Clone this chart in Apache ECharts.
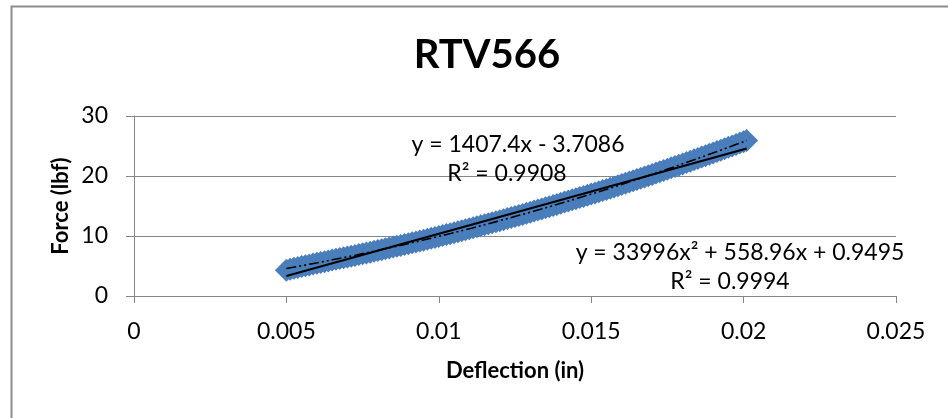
<!DOCTYPE html>
<html>
<head>
<meta charset="utf-8">
<script src="https://cdn.jsdelivr.net/npm/echarts@6/dist/echarts.min.js"></script>
<style>
html,body{margin:0;padding:0;background:#fff;}
#chart{width:948px;height:418px;}
</style>
</head>
<body>
<div id="chart"></div>
<script>
// ---- data ----
const titleText = 'RTV566';
const xAxisName = 'Deflection (in)';
const yAxisName = 'Force (lbf)';
const xTickLabels = ['0', '0.005', '0.01', '0.015', '0.02', '0.025'];
const yTickLabels = ['0', '10', '20', '30'];

const deflection = [
  0.005, 0.005125, 0.00525, 0.005375, 0.0055, 0.005625, 0.00575, 0.005875,
  0.006, 0.006125, 0.00625, 0.006375, 0.0065, 0.006625, 0.00675, 0.006875,
  0.007, 0.007125, 0.00725, 0.007375, 0.0075, 0.007625, 0.00775, 0.007875,
  0.008, 0.008125, 0.00825, 0.008375, 0.0085, 0.008625, 0.00875, 0.008875,
  0.009, 0.009125, 0.00925, 0.009375, 0.0095, 0.009625, 0.00975, 0.009875,
  0.01, 0.010125, 0.01025, 0.010375, 0.0105, 0.010625, 0.01075, 0.010875,
  0.011, 0.011125, 0.01125, 0.011375, 0.0115, 0.011625, 0.01175, 0.011875,
  0.012, 0.012125, 0.01225, 0.012375, 0.0125, 0.012625, 0.01275, 0.012875,
  0.013, 0.013125, 0.01325, 0.013375, 0.0135, 0.013625, 0.01375, 0.013875,
  0.014, 0.014125, 0.01425, 0.014375, 0.0145, 0.014625, 0.01475, 0.014875,
  0.015, 0.015125, 0.01525, 0.015375, 0.0155, 0.015625, 0.01575, 0.015875,
  0.016, 0.016125, 0.01625, 0.016375, 0.0165, 0.016625, 0.01675, 0.016875,
  0.017, 0.017125, 0.01725, 0.017375, 0.0175, 0.017625, 0.01775, 0.017875,
  0.018, 0.018125, 0.01825, 0.018375, 0.0185, 0.018625, 0.01875, 0.018875,
  0.019, 0.019125, 0.01925, 0.019375, 0.0195, 0.019625, 0.01975, 0.019875,
  0.02, 0.0201
];
const force = [
  4.30, 4.46, 4.62, 4.76, 4.90, 5.04, 5.18, 5.32,
  5.45, 5.58, 5.70, 5.84, 5.98, 6.11, 6.24, 6.37,
  6.50, 6.63, 6.77, 6.90, 7.03, 7.17, 7.31, 7.44,
  7.58, 7.72, 7.86, 8.00, 8.15, 8.28, 8.42, 8.57,
  8.72, 8.86, 9.01, 9.15, 9.30, 9.46, 9.62, 9.77,
  9.92, 10.08, 10.24, 10.39, 10.55, 10.71, 10.88, 11.04,
  11.20, 11.36, 11.53, 11.69, 11.86, 12.03, 12.20, 12.37,
  12.54, 12.72, 12.90, 13.07, 13.25, 13.42, 13.60, 13.78,
  13.97, 14.15, 14.33, 14.51, 14.70, 14.89, 15.08, 15.27,
  15.46, 15.65, 15.84, 16.03, 16.22, 16.41, 16.60, 16.79,
  16.98, 17.17, 17.37, 17.57, 17.77, 17.97, 18.18, 18.38,
  18.58, 18.79, 19.00, 19.21, 19.42, 19.63, 19.84, 20.05,
  20.26, 20.48, 20.70, 20.92, 21.14, 21.36, 21.58, 21.80,
  22.02, 22.24, 22.47, 22.69, 22.92, 23.15, 23.38, 23.61,
  23.84, 24.07, 24.30, 24.54, 24.78, 25.01, 25.25, 25.48,
  25.72, 25.90
];

// trendline coefficients as printed on the chart
const linearCoef = [1407.4, -3.7086];          // slope, intercept
const polyCoef = [33996, 558.96, 0.9495];      // a, b, c
const linearLabel = ['y = 1407.4x - 3.7086', 'R² = 0.9908'];
const polyLabel = ['y = 33996x² + 558.96x + 0.9495', 'R² = 0.9994'];

// ---- build ----
const scatterData = deflection.map((x, i) => [x, force[i]]);
const xMin = Math.min(...deflection), xMax = Math.max(...deflection);
const linData = [xMin, xMax].map(x => [x, linearCoef[0] * x + linearCoef[1]]);
const polyData = [];
const nSteps = 40;
for (let i = 0; i <= nSteps; i++) {
  const x = xMin + (xMax - xMin) * i / nSteps;
  polyData.push([x, polyCoef[0] * x * x + polyCoef[1] * x + polyCoef[2]]);
}

const FONT = 'Lato, "Open Sans", sans-serif';
const GRAY = '#868686';
const TXT = 23;

const chart = echarts.init(document.getElementById('chart'), null, {renderer: 'canvas'});
chart.setOption({
  animation: false,
  backgroundColor: '#fff',
  title: {
    text: titleText,
    left: 482, top: 30, textAlign: 'center',
    textStyle: {fontFamily: FONT, fontSize: 40, fontWeight: 'bold', color: '#000'}
  },
  grid: {left: 134, right: 52, top: 116, bottom: 122, containLabel: false},
  xAxis: {
    type: 'value', min: 0, max: 0.025, interval: 0.005,
    name: xAxisName, nameLocation: 'middle', nameGap: 64, nameMoveOverlap: false,
    nameTextStyle: {fontFamily: FONT, fontSize: 22, fontWeight: 'bold', color: '#000'},
    axisLine: {show: true, lineStyle: {color: GRAY, width: 1}},
    axisTick: {show: true, length: 7, lineStyle: {color: GRAY}},
    axisLabel: {
      fontFamily: FONT, fontSize: TXT, color: '#000', margin: 24,
      formatter: (v) => xTickLabels[Math.round(v / 0.005)]
    },
    splitLine: {show: false}
  },
  yAxis: {
    type: 'value', min: 0, max: 30, interval: 10,
    name: yAxisName, nameLocation: 'middle', nameGap: 62, nameRotate: 90, nameMoveOverlap: false,
    nameTextStyle: {fontFamily: FONT, fontSize: 22, fontWeight: 'bold', color: '#000'},
    axisLine: {show: true, lineStyle: {color: GRAY, width: 1}},
    axisTick: {show: true, length: 8, lineStyle: {color: GRAY}},
    axisLabel: {
      fontFamily: FONT, fontSize: TXT, color: '#000', margin: 26,
      formatter: (v) => yTickLabels[Math.round(v / 10)]
    },
    splitLine: {show: true, lineStyle: {color: GRAY, width: 1}}
  },
  series: [
    {
      type: 'scatter', name: 'data', data: scatterData,
      symbol: 'diamond', symbolSize: 23,
      itemStyle: {color: '#4a7ebb', opacity: 1}
    },
    {
      type: 'line', name: 'linear', data: linData, showSymbol: false, symbol: 'none',
      lineStyle: {color: '#000', width: 2, type: 'solid'}
    },
    {
      type: 'line', name: 'poly', data: polyData, showSymbol: false, symbol: 'none', smooth: false,
      lineStyle: {color: '#000', width: 1.6, type: [10, 3, 2, 3, 2, 3]}
    }
  ],
  graphic: [
    {type: 'rect', left: 9, top: 4, shape: {width: 960, height: 440},
     style: {fill: 'none', stroke: '#8c8c8c', lineWidth: 2}, z: 100},
    {type: 'text', x: 518, y: 145, style: {text: linearLabel[0], x: 0, y: 0, align: 'center', verticalAlign: 'middle',
      font: TXT + 'px ' + FONT, fill: '#000'}, z: 50},
    {type: 'text', x: 507, y: 174, style: {text: linearLabel[1], x: 0, y: 0, align: 'center', verticalAlign: 'middle',
      font: TXT + 'px ' + FONT, fill: '#000'}, z: 50},
    {type: 'text', x: 740, y: 253, style: {text: polyLabel[0], x: 0, y: 0, align: 'center', verticalAlign: 'middle',
      font: TXT + 'px ' + FONT, fill: '#000'}, z: 50},
    {type: 'text', x: 730, y: 282, style: {text: polyLabel[1], x: 0, y: 0, align: 'center', verticalAlign: 'middle',
      font: TXT + 'px ' + FONT, fill: '#000'}, z: 50}
  ]
});
</script>
</body>
</html>
